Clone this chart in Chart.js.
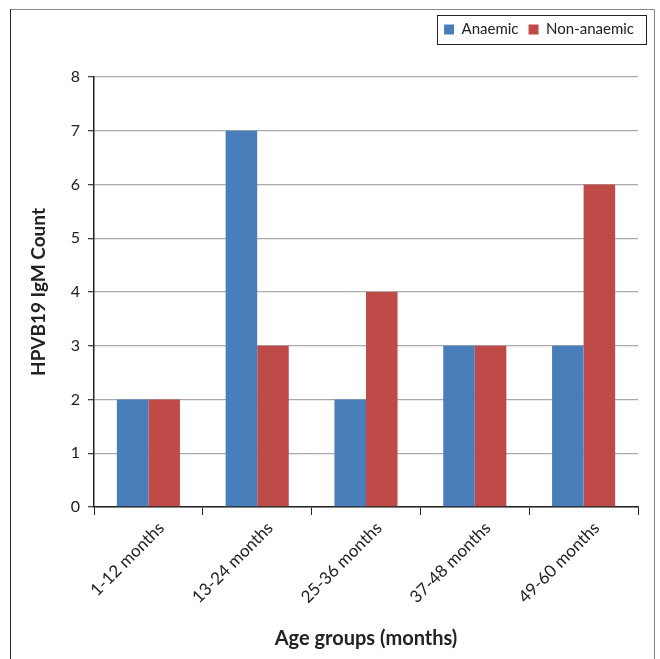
<!DOCTYPE html>
<html>
<head>
<meta charset="utf-8">
<script src="https://cdn.jsdelivr.net/npm/chart.js@4/dist/chart.umd.min.js"></script>
<style>
  body { margin: 0; background: #fff; }
  #wrap { position: relative; width: 660px; height: 659px; overflow: hidden; }
  #frame {
    position: absolute; left: 10px; top: 9px; width: 643px; height: 700px;
    border-left: 1.5px solid #222; border-top: 1.5px solid #888; border-right: 1.5px solid #888;
  }
  canvas { position: absolute; left: 0; top: 0; }
</style>
</head>
<body>
<div id="wrap">
  <div id="frame"></div>
  <canvas id="ageChart" width="660" height="659"></canvas>
</div>
<script>
var ageGroups = ['1-12 months', '13-24 months', '25-36 months', '37-48 months', '49-60 months'];
var anaemic = [2, 7, 2, 3, 3];
var nonAnaemic = [2, 3, 4, 3, 6];
var yTicks = [0, 1, 2, 3, 4, 5, 6, 7, 8];

var fontName = 'Lato';

// nudge legend to the right and draw a box round its items
var legendBox = {
    id: 'legendBox',
    afterLayout: function (chart) {
        chart.legend.left += 6;
        chart.legend.right += 6;
    },
    afterDraw: function (chart) {
        var boxes = chart.legend.legendHitBoxes;
        if (!boxes || !boxes.length) return;
        var first = boxes[0];
        var last = boxes[boxes.length - 1];
        var ctx = chart.ctx;
        ctx.save();
        ctx.strokeStyle = '#222';
        ctx.lineWidth = 1;
        var x1 = first.left - 7;
        var x2 = last.left + last.width + 12;
        var y1 = first.top - 7;
        var y2 = first.top + first.height + 7;
        ctx.strokeRect(Math.round(x1) + 0.5, Math.round(y1) + 0.5, Math.round(x2 - x1), Math.round(y2 - y1));
        ctx.restore();
    }
};

var ctx = document.getElementById('ageChart').getContext('2d');
var ageChart = new Chart(ctx, {
    type: 'bar',
    data: {
        labels: ageGroups,
        datasets: [{
            label: 'Anaemic',
            data: anaemic,
            backgroundColor: '#4A7EBB'
        }, {
            label: 'Non-anaemic',
            data: nonAnaemic,
            backgroundColor: '#BE4B48'
        }]
    },
    options: {
        responsive: false,
        animation: false,
        layout: {
            padding: { top: 12, right: 22, left: 0, bottom: 0 }
        },
        datasets: {
            bar: { categoryPercentage: 0.58, barPercentage: 1.0 }
        },
        plugins: {
            legend: {
                position: 'top',
                align: 'end',
                weight: 3000,
                labels: {
                    boxWidth: 10,
                    boxHeight: 10,
                    padding: 10,
                    color: '#222',
                    font: { family: fontName, size: 15 }
                }
            },
            subtitle: {
                display: true,
                text: '',
                padding: { top: 0, bottom: 6 },
                font: { size: 20 }
            },
            tooltip: { enabled: false }
        },
        scales: {
            x: {
                offset: true,
                grid: {
                    display: true,
                    drawOnChartArea: false,
                    offset: true,
                    tickLength: 8,
                    tickColor: '#222'
                },
                border: { color: '#222', width: 1.5 },
                ticks: {
                    minRotation: 45,
                    maxRotation: 45,
                    labelOffset: 13,
                    color: '#222',
                    font: { family: fontName, size: 17 }
                },
                title: {
                    display: true,
                    text: 'Age groups (months)',
                    color: '#222',
                    font: { family: fontName, size: 20, weight: 'bold' },
                    padding: { top: 4, bottom: 8 }
                },
                afterFit: function (scale) { scale.height = 152; }
            },
            y: {
                min: 0,
                max: 8,
                afterBuildTicks: function (scale) {
                    scale.ticks = yTicks.map(function (v) { return { value: v }; });
                },
                grid: {
                    color: '#aaa',
                    tickColor: '#444',
                    tickLength: 6,
                    lineWidth: 1.3
                },
                border: { color: '#222', width: 1.5 },
                ticks: {
                    padding: 8,
                    color: '#222',
                    font: { family: fontName, size: 16 }
                },
                title: {
                    display: true,
                    text: 'HPVB19 IgM Count',
                    color: '#222',
                    font: { family: fontName, size: 19, weight: 'bold' },
                    padding: { top: 27, bottom: 4 }
                },
                afterFit: function (scale) { scale.width = 94; }
            }
        }
    },
    plugins: [legendBox]
});
</script>
</body>
</html>
